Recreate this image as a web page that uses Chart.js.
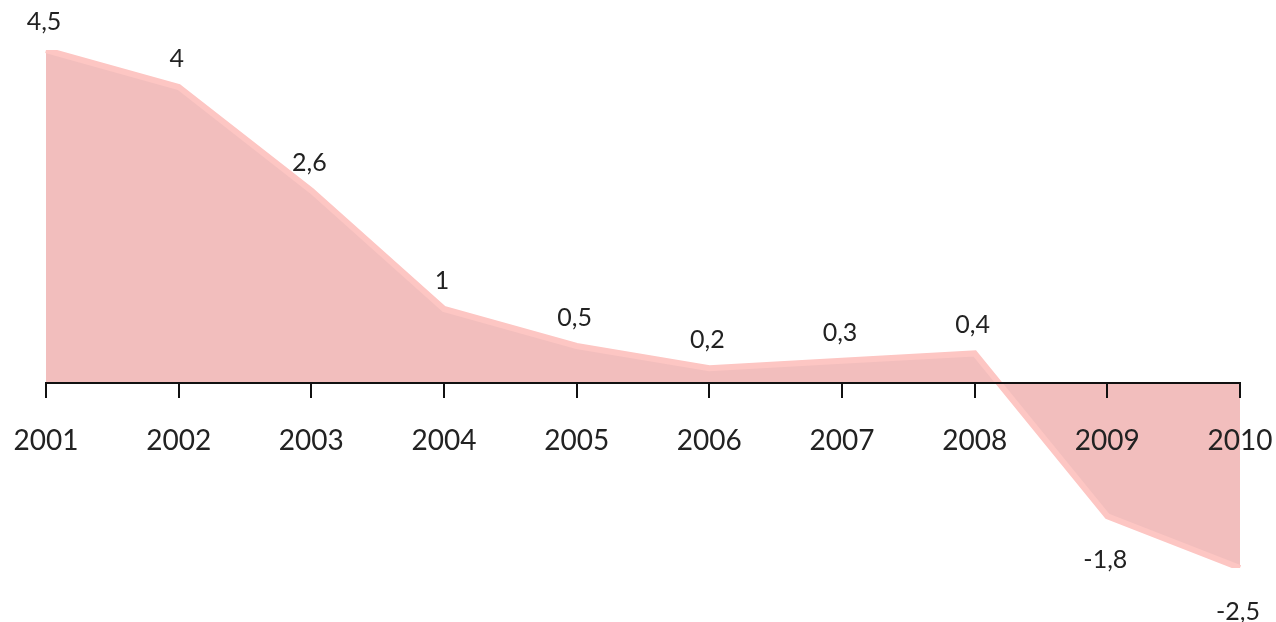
<!DOCTYPE html>
<html>
<head>
<meta charset="utf-8">
<script src="https://cdn.jsdelivr.net/npm/chart.js@4/dist/chart.umd.min.js"></script>
<style>
    html, body { margin: 0; padding: 0; background: #fff; }
    #wrap { width: 1276px; height: 622px; position: relative; }
</style>
</head>
<body>
<div id="wrap"><canvas id="chart"></canvas></div>
<script>
const years = ['2001', '2002', '2003', '2004', '2005', '2006', '2007', '2008', '2009', '2010'];
const values = [4.5, 4, 2.6, 1, 0.5, 0.2, 0.3, 0.4, -1.8, -2.5];
const valueLabels = ['4,5', '4', '2,6', '1', '0,5', '0,2', '0,3', '0,4', '-1,8', '-2,5'];

// draws the value above (or below, for negatives) each point
const pointLabels = {
    id: 'pointLabels',
    afterDraw(chart) {
        const ctx = chart.ctx;
        const meta = chart.getDatasetMeta(0);
        ctx.save();
        ctx.font = '25px Lato';
        ctx.fillStyle = '#222';
        ctx.textAlign = 'center';
        ctx.textBaseline = 'middle';
        meta.data.forEach((pt, i) => {
            const v = values[i];
            const y = v >= 0 ? pt.y - 28 : pt.y + 44;
            ctx.fillText(valueLabels[i], pt.x - 2, y);
        });
        ctx.restore();
    }
};

new Chart(document.getElementById('chart'), {
    type: 'line',
    data: {
        labels: years,
        datasets: [{
            data: values,
            fill: 'origin',
            backgroundColor: '#f2bebd',
            borderColor: '#fdc6c3',
            borderWidth: 6,
            pointRadius: 0,
            tension: 0
        }]
    },
    options: {
        responsive: true,
        maintainAspectRatio: false,
        animation: false,
        layout: { padding: { left: 46, right: 36, top: 50, bottom: 54 } },
        plugins: {
            legend: { display: false },
            tooltip: { enabled: false }
        },
        scales: {
            x: {
                position: { y: 0 },
                afterFit(scale) {
                    scale.paddingLeft = 0;
                    scale.paddingRight = 0;
                },
                grid: {
                    drawOnChartArea: false,
                    drawTicks: true,
                    tickLength: 14,
                    color: '#111',
                    lineWidth: 2,
                    z: 1
                },
                border: { display: true, color: '#111', width: 2, z: 1 },
                ticks: {
                    color: '#222',
                    font: { family: 'Lato', size: 28 },
                    padding: 27,
                    maxRotation: 0,
                    autoSkip: false,
                    z: 1
                }
            },
            y: {
                display: false,
                min: -2.5,
                max: 4.5
            }
        }
    },
    plugins: [pointLabels]
});
</script>
</body>
</html>
